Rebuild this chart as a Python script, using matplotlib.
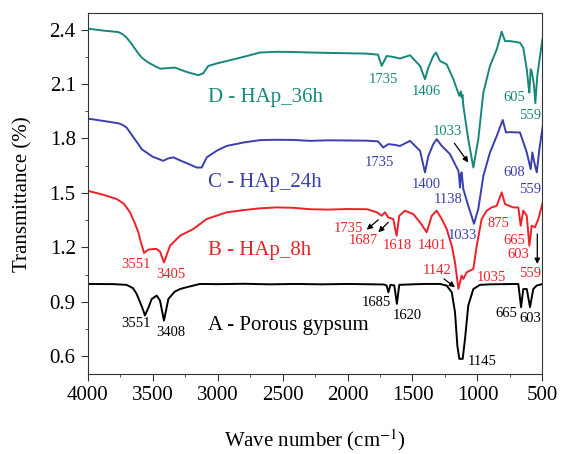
import matplotlib
matplotlib.use("Agg")
import matplotlib.pyplot as plt
from matplotlib.ticker import MultipleLocator

plt.rcParams['font.family'] = ['Liberation Serif', 'DejaVu Serif']
plt.rcParams['mathtext.fontset'] = 'stix'

# A - porous gypsum
wn_a = [4000, 3800, 3699, 3650, 3622, 3580, 3558, 3530, 3506, 3468, 3442, 3412, 3378, 3330, 3288, 3237, 3135,
        3000, 2800, 2600, 2400, 2200, 2000, 1800, 1720, 1699, 1685, 1670, 1640, 1620, 1602, 1500,
        1400, 1288, 1237, 1198, 1173, 1155, 1140, 1114, 1096, 1071, 1032, 981, 900, 800, 686,
        665, 648, 621, 596, 571, 545, 498]
t_a = [0.998, 0.997, 0.993, 0.975, 0.943, 0.87, 0.824, 0.87, 0.915, 0.934, 0.906, 0.796, 0.915, 0.955, 0.970, 0.980, 0.998,
       0.997, 0.999, 0.996, 0.998, 0.996, 0.998, 0.996, 0.995, 0.989, 0.952, 0.993, 0.990, 0.888, 0.993, 0.996,
       0.998, 0.998, 0.989, 0.952, 0.842, 0.658, 0.585, 0.585, 0.695, 0.879, 0.970, 0.993, 0.996, 0.997, 0.998,
       0.870, 0.970, 0.970, 0.870, 0.970, 0.989, 0.998]

# B - HAp_8h
wn_b = [4000, 3880, 3775, 3720, 3673, 3640, 3609, 3590, 3565, 3532, 3500, 3468, 3442, 3412, 3365, 3288, 3186, 3083,
        2929, 2800, 2673, 2545, 2420, 2288, 2150, 2000, 1850, 1775, 1737, 1712, 1686, 1648, 1622,
        1602, 1558, 1494, 1442, 1391, 1352, 1314, 1275, 1237, 1198, 1173, 1147, 1122, 1109, 1083,
        1032, 1006, 968, 929, 891, 852, 814, 788, 725, 686, 668, 648, 621, 601, 583, 558, 532, 498]
t_b = [1.512, 1.49, 1.466, 1.44, 1.393, 1.34, 1.283, 1.23, 1.169, 1.187, 1.19, 1.191, 1.176, 1.117, 1.209, 1.264, 1.301, 1.356,
       1.393, 1.405, 1.415, 1.420, 1.418, 1.410, 1.408, 1.411, 1.410, 1.393, 1.374, 1.393, 1.365, 1.356, 1.264,
       1.374, 1.402, 1.383, 1.338, 1.283, 1.374, 1.402, 1.356, 1.301, 1.209, 1.117, 0.971, 1.044, 1.026, 1.062,
       1.081, 1.209, 1.356, 1.402, 1.420, 1.429, 1.503, 1.438, 1.420, 1.420, 1.319, 1.402, 1.374, 1.209, 1.319,
       1.310, 1.356, 1.448]

# C - HAp_24h
wn_c = [4000, 3880, 3763, 3730, 3699, 3670, 3640, 3610, 3583, 3500, 3417, 3380, 3340, 3290, 3237, 3160, 3122, 3083,
        3000, 2929, 2800, 2673, 2550, 2417, 2288, 2150, 2000, 1850, 1765, 1725, 1686, 1640, 1596,
        1519, 1442, 1404, 1378, 1340, 1314, 1275, 1212, 1160, 1147, 1140, 1135, 1128, 1122, 1109,
        1071, 1027, 994, 955, 904, 852, 806, 781, 750, 673, 621, 591, 578, 563, 544, 524, 494]
t_c = [1.910, 1.897, 1.884, 1.875, 1.860, 1.83, 1.80, 1.77, 1.741, 1.70, 1.677, 1.690, 1.696, 1.680, 1.664, 1.640, 1.640, 1.696,
       1.735, 1.759, 1.778, 1.791, 1.793, 1.792, 1.787, 1.790, 1.789, 1.788, 1.784, 1.750, 1.769, 1.765, 1.759,
       1.787, 1.732, 1.613, 1.704, 1.769, 1.796, 1.759, 1.714, 1.640, 1.622, 1.58, 1.530, 1.60, 1.613, 1.521,
       1.429, 1.330, 1.411, 1.594, 1.723, 1.814, 1.902, 1.833, 1.835, 1.833, 1.723, 1.631, 1.723, 1.668, 1.613,
       1.741, 1.888]

# D - HAp_36h
wn_d = [4000, 3880, 3763, 3730, 3699, 3670, 3640, 3610, 3583, 3545, 3510, 3442, 3380, 3327, 3280, 3237, 3148, 3109, 3071,
        3000, 2929, 2800, 2673, 2550, 2417, 2288, 2150, 2000, 1850, 1765, 1737, 1699, 1650, 1596,
        1519, 1442, 1404, 1378, 1340, 1319, 1288, 1237, 1186, 1140, 1128, 1122, 1115, 1109, 1071,
        1032, 994, 955, 904, 852, 814, 800, 788, 750, 673, 648, 621, 609, 601, 591, 583, 571, 565,
        555, 540, 520, 500]
t_d = [2.406, 2.395, 2.387, 2.375, 2.356, 2.33, 2.30, 2.27, 2.246, 2.225, 2.21, 2.185, 2.188, 2.191, 2.178, 2.167, 2.149, 2.160, 2.200,
       2.215, 2.227, 2.25, 2.274, 2.278, 2.277, 2.274, 2.272, 2.270, 2.268, 2.262, 2.200, 2.255, 2.250, 2.241,
       2.259, 2.200, 2.127, 2.191, 2.255, 2.274, 2.227, 2.209, 2.127, 2.035, 2.06, 2.026, 2.04, 1.980, 1.796,
       1.640, 1.796, 2.053, 2.200, 2.291, 2.389, 2.36, 2.337, 2.337, 2.328, 2.30, 2.182, 2.10, 2.053, 2.182,
       2.17, 2.120, 2.09, 1.995, 2.145, 2.25, 2.347]

col_a, col_b, col_c, col_d = 'black', '#ee2028', '#3a3fae', '#17877c'

# peak labels: (text, wavenumber, transmittance)
peaks_a = [('3551', 3628, 0.778), ('3408', 3362, 0.728), ('1685', 1781, 0.897), ('1620', 1542, 0.824),
           ('1145', 968, 0.570), ('665', 775, 0.833), ('603', 590, 0.809)]
peaks_b = [('3551', 3628, 1.108), ('3405', 3362, 1.049), ('1735', 1994, 1.305), ('1687', 1878, 1.236),
           ('1618', 1615, 1.209), ('1401', 1348, 1.209), ('1142', 1312, 1.071), ('1035', 894, 1.035),
           ('875', 842, 1.332), ('665', 719, 1.240), ('603', 686, 1.158), ('559', 598, 1.057)]
peaks_c = [('1735', 1758, 1.668), ('1400', 1396, 1.549), ('1138', 1227, 1.465), ('1033', 1115, 1.264),
           ('608', 717, 1.613), ('559', 598, 1.521)]
peaks_d = [('1735', 1725, 2.127), ('1406', 1396, 2.057), ('1033', 1229, 1.836),
           ('605', 719, 2.026), ('559', 598, 1.928)]

# arrows: (from_wn, from_t, to_wn, to_t)
arrows = [(1178, 1.774, 1071, 1.668), (1763, 1.352, 1852, 1.297), (1686, 1.338, 1763, 1.283),
          (1258, 1.026, 1173, 0.980), (540, 1.273, 540, 1.108)]

fig = plt.figure(figsize=(5.62, 4.54), dpi=100)
ax = fig.add_axes([0.1557, 0.1756, 0.8096, 0.795])

for wn, t, c in [(wn_a, t_a, col_a), (wn_b, t_b, col_b), (wn_c, t_c, col_c), (wn_d, t_d, col_d)]:
    ax.plot(wn, t, color=c, lw=1.4)

for peaks, c in [(peaks_a, col_a), (peaks_b, col_b), (peaks_c, col_c), (peaks_d, col_d)]:
    for txt, x, y in peaks:
        ax.text(x, y, txt, color=c, fontsize=10.5, ha='center', va='center')

for x0, y0, x1, y1 in arrows:
    ax.annotate('', xy=(x1, y1), xytext=(x0, y0),
                arrowprops=dict(arrowstyle='-|>', color='black', lw=0.9, mutation_scale=8,
                                shrinkA=0, shrinkB=0))

ax.text(3075, 0.768, 'A - Porous gypsum', color=col_a, fontsize=15, ha='left', va='center')
ax.text(3075, 1.181, 'B - HAp_8h', color=col_b, fontsize=15, ha='left', va='center')
ax.text(3075, 1.558, 'C - HAp_24h', color=col_c, fontsize=15, ha='left', va='center')
ax.text(3075, 2.026, 'D - HAp_36h', color=col_d, fontsize=15, ha='left', va='center')

ax.set_xlim(4000, 500)
ax.set_ylim(0.5, 2.49)
ax.xaxis.set_major_locator(MultipleLocator(500))
ax.xaxis.set_minor_locator(MultipleLocator(250))
ax.yaxis.set_minor_locator(MultipleLocator(0.15))
ax.set_yticks([0.6, 0.9, 1.2, 1.5, 1.8, 2.1, 2.4])
ax.set_yticklabels(['0.6', '0.9', '1.2', '1.5', '1.8', '2.1', '2.4'])
ax.tick_params(which='both', direction='out', top=False, right=False, labelsize=15, color='#333333')
ax.tick_params(which='major', length=5)
ax.tick_params(which='minor', length=2.5)
for s in ax.spines.values():
    s.set_color('#333333')

ax.set_xlabel(r'Wave number (cm$^{-1}$)', fontsize=15, labelpad=16)
ax.set_ylabel('Transmittance (%)', fontsize=15, labelpad=12)

fig.savefig('out.png', dpi=100)
